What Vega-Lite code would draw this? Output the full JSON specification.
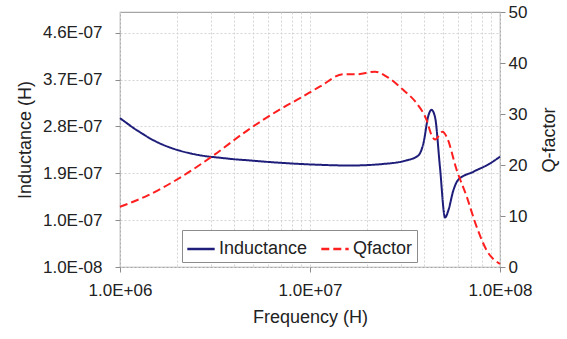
{
  "$schema": "https://vega.github.io/schema/vega-lite/v6.json",
  "width": 380,
  "height": 255,
  "autosize": {"type": "none"},
  "padding": {"left": 120, "top": 12, "right": 67, "bottom": 72},
  "background": "white",
  "config": {
    "font": "Liberation Sans",
    "view": {"stroke": "#a6a6a6", "strokeWidth": 1.2},
    "axis": {
      "domain": false,
      "tickColor": "#8c8c8c",
      "tickSize": 5,
      "labelColor": "#222222",
      "titleColor": "#222222",
      "labelFontSize": 17,
      "titleFontSize": 18,
      "titleFontWeight": "normal",
      "gridColor": "#d4d4d4",
      "gridDash": [2, 2],
      "gridWidth": 1
    }
  },
  "datasets": {
    "ind": [
      {"f": 1000000, "L": 2.96e-7},
      {"f": 1090000, "L": 2.86e-7},
      {"f": 1190000, "L": 2.76e-7},
      {"f": 1300000, "L": 2.67e-7},
      {"f": 1410000, "L": 2.59e-7},
      {"f": 1680000, "L": 2.45e-7},
      {"f": 2000000, "L": 2.35e-7},
      {"f": 2370000, "L": 2.28e-7},
      {"f": 2820000, "L": 2.23e-7},
      {"f": 3350000, "L": 2.20e-7},
      {"f": 4000000, "L": 2.17e-7},
      {"f": 4730000, "L": 2.15e-7},
      {"f": 6500000, "L": 2.11e-7},
      {"f": 10200000, "L": 2.07e-7},
      {"f": 16200000, "L": 2.05e-7},
      {"f": 24300000, "L": 2.08e-7},
      {"f": 32300000, "L": 2.15e-7},
      {"f": 37100000, "L": 2.24e-7},
      {"f": 39500000, "L": 2.47e-7},
      {"f": 42000000, "L": 3.01e-7},
      {"f": 43600000, "L": 3.12e-7},
      {"f": 45500000, "L": 2.98e-7},
      {"f": 48300000, "L": 2.02e-7},
      {"f": 51400000, "L": 1.05e-7},
      {"f": 53500000, "L": 1.19e-7},
      {"f": 56800000, "L": 1.57e-7},
      {"f": 60100000, "L": 1.77e-7},
      {"f": 72400000, "L": 1.93e-7},
      {"f": 88600000, "L": 2.09e-7},
      {"f": 100000000, "L": 2.22e-7}
    ],
    "q": [
      {"f": 1000000, "Q": 11.8},
      {"f": 1410000, "Q": 14.1},
      {"f": 2110000, "Q": 17.7},
      {"f": 3030000, "Q": 21.6},
      {"f": 4730000, "Q": 26.9},
      {"f": 7100000, "Q": 31.1},
      {"f": 8860000, "Q": 33.1},
      {"f": 11300000, "Q": 35.4},
      {"f": 15000000, "Q": 37.8},
      {"f": 17600000, "Q": 37.8},
      {"f": 22000000, "Q": 38.3},
      {"f": 25400000, "Q": 37.3},
      {"f": 31000000, "Q": 34.7},
      {"f": 36400000, "Q": 32.1},
      {"f": 41100000, "Q": 28.8},
      {"f": 43600000, "Q": 25.9},
      {"f": 45500000, "Q": 25.0},
      {"f": 49900000, "Q": 26.5},
      {"f": 52400000, "Q": 25.5},
      {"f": 59200000, "Q": 19.0},
      {"f": 66800000, "Q": 13.8},
      {"f": 75300000, "Q": 7.9},
      {"f": 85000000, "Q": 3.3},
      {"f": 100000000, "Q": 0.6}
    ]
  },
  "layer": [
    {
      "data": {"name": "ind"},
      "mark": {"type": "line", "strokeWidth": 2, "interpolate": "monotone"},
      "encoding": {
        "x": {
          "field": "f",
          "type": "quantitative",
          "title": "Frequency (H)",
          "scale": {"type": "log", "domain": [1000000, 100000000], "nice": false},
          "axis": {
            "values": [1000000, 2000000, 3000000, 4000000, 5000000, 6000000, 7000000, 8000000, 9000000, 10000000, 20000000, 30000000, 40000000, 50000000, 60000000, 70000000, 80000000, 90000000, 100000000],
            "labelExpr": "(datum.value == 1000000 || datum.value == 10000000 || datum.value == 100000000) ? replace(format(datum.value, '.1e'), 'e+', 'E+0') : ''",
            "tickOpacity": {"condition": {"test": "datum.value == 1000000 || datum.value == 10000000 || datum.value == 100000000", "value": 1}, "value": 0},
            "labelOverlap": false,
            "labelFlush": false,
            "labelBound": false,
            "labelPadding": 10,
            "titlePadding": 10,
            "grid": true
          }
        },
        "y": {
          "field": "L",
          "type": "quantitative",
          "title": "Inductance (H)",
          "scale": {"domain": [1e-8, 5e-7], "nice": false, "zero": false},
          "axis": {
            "orient": "left",
            "values": [1e-8, 1e-7, 1.9e-7, 2.8e-7, 3.7e-7, 4.6e-7],
            "labelExpr": "replace(format(datum.value, '.1e'), 'e-', 'E-0')",
            "labelPadding": 13,
            "titlePadding": 8,
            "grid": true
          }
        },
        "color": {
          "datum": "Inductance",
          "scale": {"domain": ["Inductance", "Qfactor"], "range": ["#1e1e7a", "#ff1f1f"]},
          "legend": {
            "title": null,
            "orient": "none",
            "legendX": 62,
            "legendY": 218,
            "direction": "horizontal",
            "fillColor": "white",
            "strokeColor": "#8c8c8c",
            "padding": 4,
            "labelFontSize": 18,
            "labelColor": "#222222",
            "symbolType": "stroke",
            "symbolSize": 750,
            "symbolStrokeWidth": 2.5,
            "columnPadding": 8,
            "labelOffset": 3
          }
        },
        "strokeDash": {
          "datum": "Inductance",
          "scale": {"domain": ["Inductance", "Qfactor"], "range": [[1, 0], [8, 4]]}
        }
      }
    },
    {
      "data": {"name": "q"},
      "mark": {"type": "line", "strokeWidth": 2, "interpolate": "monotone"},
      "encoding": {
        "x": {"field": "f", "type": "quantitative"},
        "y": {
          "field": "Q",
          "type": "quantitative",
          "title": "Q-factor",
          "scale": {"domain": [0, 50], "nice": false},
          "axis": {
            "orient": "right",
            "values": [0, 10, 20, 30, 40, 50],
            "labelPadding": 3,
            "titlePadding": 14,
            "titleAngle": 270,
            "titleBaseline": "top",
            "grid": false
          }
        },
        "color": {"datum": "Qfactor"},
        "strokeDash": {"datum": "Qfactor"}
      }
    }
  ],
  "resolve": {"scale": {"y": "independent"}}
}
